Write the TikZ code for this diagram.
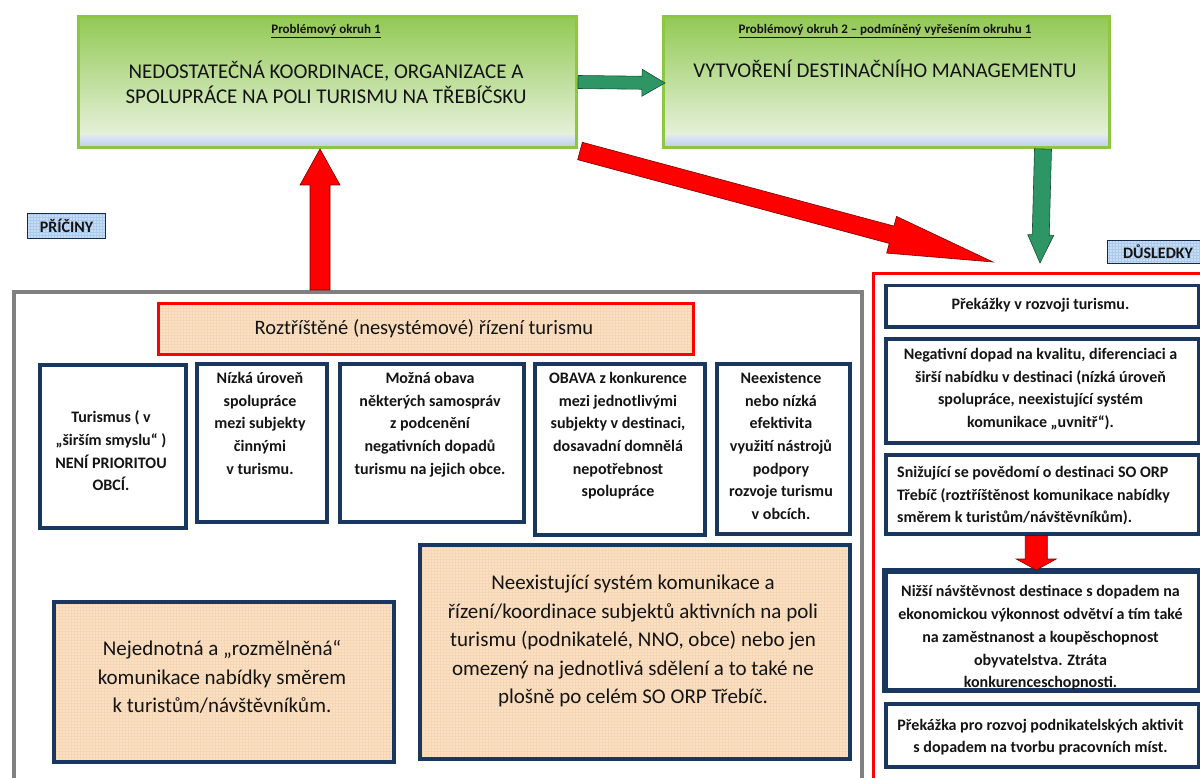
\documentclass[tikz,border=0pt]{standalone}
\usepackage{fontspec}
\setmainfont{Carlito}
\usetikzlibrary{calc}
\definecolor{gframe}{RGB}{141,198,63}
\definecolor{gtop}{RGB}{146,201,84}
\definecolor{glow}{RGB}{238,245,232}
\definecolor{gstripT}{RGB}{222,232,240}
\definecolor{gstripB}{RGB}{190,206,236}
\definecolor{navy}{RGB}{25,55,95}
\definecolor{peach}{RGB}{251,225,195}
\definecolor{peachgrid}{RGB}{246,214,180}
\definecolor{lblue}{RGB}{200,221,245}
\definecolor{lbluegrid}{RGB}{172,202,236}
\definecolor{arrgreen}{RGB}{46,150,100}
\definecolor{arrgreenD}{RGB}{20,80,50}
\definecolor{arrred}{RGB}{255,0,0}
\definecolor{arrredD}{RGB}{120,0,0}
\definecolor{framegray}{RGB}{128,128,128}
\definecolor{txt}{RGB}{20,20,20}
\newcommand\fatarrow[6]{%
  \coordinate (fa-b) at ($(#2)!#5!(#1)$);
  \filldraw[#6] ($(#1)!#3!90:(#2)$) -- ($(fa-b)!#3!90:(#2)$) -- ($(fa-b)!#4!90:(#2)$)
    -- (#2) -- ($(fa-b)!#4!-90:(#2)$) -- ($(fa-b)!#3!-90:(#2)$) -- ($(#1)!#3!-90:(#2)$) -- cycle;}
\tikzset{
  greenbox/.style={draw=gframe, line width=3pt, anchor=north west,
    path picture={
      \shade[top color=gtop, bottom color=glow] (path picture bounding box.north west) rectangle ($(path picture bounding box.south east)+(0,-12)$);
      \shade[top color=gstripT, bottom color=gstripB] ($(path picture bounding box.south west)+(0,-12)$) rectangle (path picture bounding box.south east);}},
  peachfill/.style={fill=peach, path picture={\draw[peachgrid, line width=0.3pt] (path picture bounding box.south west) grid[step=3pt] (path picture bounding box.north east);}},
  bluefill/.style={fill=lblue, path picture={\draw[lbluegrid, line width=0.3pt] (path picture bounding box.south west) grid[step=3pt] (path picture bounding box.north east);}},
  navybox/.style={draw=navy, line width=3.5pt, fill=white, anchor=north west},
  peachbox/.style={navybox, peachfill},
  lbl/.style={draw=navy!80!black, line width=1pt, bluefill, anchor=north west},
  txtn/.style={inner sep=0pt, text=txt, align=center},
  subt/.style={txtn, font=\bfseries\fontsize{13}{15}\selectfont},
  ttl/.style={txtn, font=\fontsize{21}{25}\selectfont},
  bt/.style={txtn, font=\bfseries\fontsize{16}{22.7}\selectfont},
  big/.style={txtn, font=\fontsize{21}{28.5}\selectfont},
  lblt/.style={txtn, font=\bfseries\fontsize{16}{18}\selectfont},
  redarr/.style={fill=arrred, draw=arrredD, line width=0.6pt, line join=miter},
  greenarr/.style={fill=arrgreen, draw=arrgreenD, line width=0.6pt, line join=miter},
}
\begin{document}
\begin{tikzpicture}[x=1pt,y=-1pt]
\useasboundingbox (0,0) rectangle (1200,778);
\clip (0,0) rectangle (1200,778);
\fill[white] (0,0) rectangle (1200,778);
% top problem boxes
\node[greenbox, minimum width=498pt, minimum height=131pt] (g1) at (77,15) {};
\node[greenbox, minimum width=446pt, minimum height=131pt] (g2) at (662,15) {};
\node[subt] (g1s) at (326,31) {\underline{Problémový okruh 1}};
\node[ttl] (g1t) at (326,82) {NEDOSTATEČNÁ KOORDINACE, ORGANIZACE A\\SPOLUPRÁCE NA POLI TURISMU NA TŘEBÍČSKU};
\node[subt] (g2s) at (885,31) {\underline{Problémový okruh 2 – podmíněný vyřešením okruhu 1}};
\node[ttl] (g2t) at (885,69) {VYTVOŘENÍ DESTINAČNÍHO MANAGEMENTU};
% labels
\node[lbl, minimum width=78pt, minimum height=25pt] (pric) at (27,213) {};
\node[lblt] (pricT) at (pric.center) {PŘÍČINY};
\node[lbl, minimum width=100pt, minimum height=23pt] (dusl) at (1107,240) {};
\node[lblt] (duslT) at (1158,251.5) {DŮSLEDKY};
% frames
\node[draw=framegray, line width=4pt, minimum width=848pt, minimum height=520pt, anchor=north west] (causes) at (12,290) {};
\node[draw=arrred, line width=3pt, minimum width=360pt, minimum height=540pt, anchor=north west] (effects) at (872,272) {};
% root cause
\node[peachfill, draw=arrred, line width=3pt, minimum width=535pt, minimum height=51pt, anchor=north west] (root) at (157,302) {};
\node[txtn, font=\fontsize{20.5}{24}\selectfont] (rootT) at (424,329) {Roztříštěné (nesystémové) řízení turismu};
% small cause boxes
\node[navybox, minimum width=146pt, minimum height=163pt] (b1) at (38,363) {};
\node[navybox, minimum width=130pt, minimum height=158pt] (b2) at (195,362) {};
\node[navybox, minimum width=184pt, minimum height=158pt] (b3) at (338,362) {};
\node[navybox, minimum width=170pt, minimum height=171pt] (b4) at (533,362) {};
\node[navybox, minimum width=133pt, minimum height=170pt] (b5) at (715,362) {};
\node[bt] (b1T) at (111,451) {Turismus ( v\\„širším smyslu“ )\\NENÍ PRIORITOU\\OBCÍ.};
\node[bt, anchor=north] (b2T) at (260,372) {Nízká úroveň\\spolupráce\\mezi subjekty\\činnými\\v turismu.};
\node[bt, anchor=north] (b3T) at (430,372) {Možná obava\\některých samospráv\\z podcenění\\negativních dopadů\\turismu na jejich obce.};
\node[bt, anchor=north] (b4T) at (618,372) {OBAVA z konkurence\\mezi jednotlivými\\subjekty v destinaci,\\dosavadní domnělá\\nepotřebnost\\spolupráce};
\node[bt, anchor=north] (b5T) at (781,372) {Neexistence\\nebo nízká\\efektivita\\využití nástrojů\\podpory\\rozvoje turismu\\v obcích.};
% lower cause boxes
\node[peachbox, minimum width=340pt, minimum height=160pt] (lb1) at (52,600) {};
\node[peachbox, minimum width=430pt, minimum height=214pt] (lb2) at (418,543) {};
\node[big] (lb1T) at (222,677) {Nejednotná a „rozmělněná“\\komunikace nabídky směrem\\k turistům/návštěvníkům.};
\node[big] (lb2T) at (633,641) {Neexistující systém komunikace a\\řízení/koordinace subjektů aktivních na poli\\turismu (podnikatelé, NNO, obce) nebo jen\\omezený na jednotlivá sdělení a to také ne\\plošně po celém SO ORP Třebíč.};
% effects column
\node[navybox, minimum width=313pt, minimum height=41pt] (r1) at (884,284) {};
\node[navybox, minimum width=313pt, minimum height=104pt] (r2) at (884,337) {};
\node[navybox, minimum width=313pt, minimum height=79pt] (r3) at (884,453) {};
\node[navybox, minimum width=313pt, minimum height=118pt] (r4) at (884,570) {};
\node[navybox, minimum width=313pt, minimum height=63pt] (r5) at (884,702) {};
\node[bt] (r1T) at (1040.5,305) {Překážky v rozvoji turismu.};
\node[bt] (r2T) at (1040.5,389) {Negativní dopad na kvalitu, diferenciaci a\\širší nabídku v destinaci (nízká úroveň\\spolupráce, neexistující systém\\komunikace „uvnitř“).};
\node[bt, align=left, anchor=west] (r3T) at ($(r3.west)+(13,1.5)$) {Snižující se povědomí o destinaci SO ORP\\Třebíč (roztříštěnost komunikace nabídky\\směrem k turistům/návštěvníkům).};
\node[bt] (r4T) at (1040.5,638) {Nižší návštěvnost destinace s dopadem na\\ekonomickou výkonnost odvětví a tím také\\na zaměstnanost a koupěschopnost\\obyvatelstva. Ztráta\\konkurenceschopnosti.};
\draw[draw=navy, line width=3.5pt] (r4.north west) rectangle (r4.south east);
\node[bt] (r5T) at (1040.5,737) {Překážka pro rozvoj podnikatelských aktivit\\s dopadem na tvorbu pracovních míst.};
% arrows
\coordinate (ga-t) at (g1.east);
\coordinate (ga-p) at ($(g2.west)+(3,1)$);
\fatarrow{ga-t}{ga-p}{6.5pt}{13.5pt}{23pt}{greenarr}
\coordinate (gd-t) at ($(g2.south east)+(-68,0)$);
\coordinate (gd-p) at ($(effects.north west)+(168,-9)$);
\fatarrow{gd-t}{gd-p}{8.5pt}{13pt}{28pt}{greenarr}
\coordinate (ru-t) at ($(causes.north west)+(308,0)$);
\coordinate (ru-p) at ($(g1.south west)+(243,0)$);
\fatarrow{ru-t}{ru-p}{10pt}{20pt}{36pt}{redarr}
\coordinate (rd-t) at ($(g1.south east)+(2,2)$);
\coordinate (rd-p) at ($(effects.north west)+(121,-10)$);
\fatarrow{rd-t}{rd-p}{9pt}{19pt}{105pt}{redarr}
\coordinate (rs-t) at ($(r3.south)+(-6,0)$);
\coordinate (rs-p) at ($(r4.north)+(-6,0)$);
\fatarrow{rs-t}{rs-p}{11pt}{20pt}{11pt}{redarr}
\end{tikzpicture}
\end{document}
